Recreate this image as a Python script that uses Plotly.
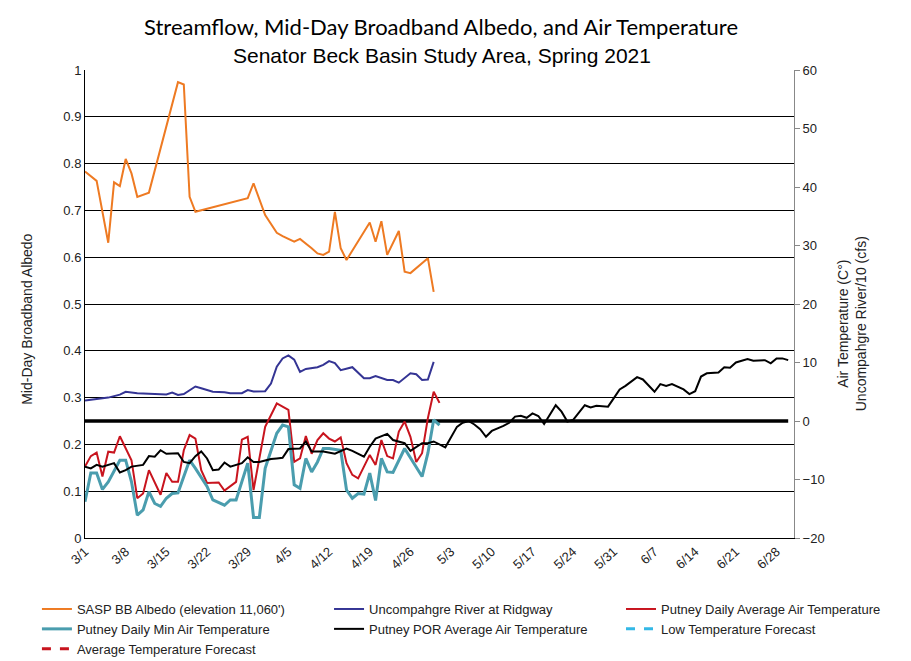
import pandas as pd
import plotly.graph_objects as go

# ---------------- data (day offsets from 2021-03-01) ----------------
start_date = "2021-03-01"

albedo_days = [0, 2, 4, 5, 6, 7, 8, 9, 11, 16, 17, 18, 19, 28, 29, 30, 31, 33, 34, 36, 37,
               39, 40, 41, 42, 43, 44, 45, 49, 50, 51, 52, 54, 55, 56, 59, 60]
albedo_vals = [0.783, 0.763, 0.631, 0.760, 0.752, 0.810, 0.779, 0.729, 0.738, 0.974, 0.969,
               0.729, 0.697, 0.726, 0.758, 0.722, 0.690, 0.652, 0.645, 0.633, 0.639,
               0.619, 0.608, 0.605, 0.612, 0.697, 0.619, 0.594, 0.674, 0.633, 0.677,
               0.605, 0.656, 0.569, 0.566, 0.598, 0.526]

river_days = [0, 2, 4, 6, 7, 9, 11, 13, 14, 15, 16, 17, 19, 20, 22, 24, 25, 27, 28, 29, 31,
              32, 33, 34, 35, 36, 37, 38, 40, 41, 42, 43, 44, 46, 48, 49, 50, 52, 53, 54,
              56, 57, 58, 59, 60]
river_vals = [3.5, 3.7, 4.0, 4.5, 5.0, 4.75, 4.7, 4.6, 4.55, 4.85, 4.45, 4.6, 5.9, 5.6, 5.0,
              4.9, 4.75, 4.75, 5.3, 5.05, 5.1, 6.4, 9.3, 10.7, 11.2, 10.5, 8.4, 8.9, 9.2,
              9.6, 10.25, 9.9, 8.7, 9.2, 7.3, 7.3, 7.7, 7.0, 7.0, 6.55, 8.15, 8.0, 7.0,
              7.1, 10.1]

avg_days = [0, 1, 2, 3, 4, 5, 6, 8, 9, 10, 11, 12, 13, 14, 15, 16, 17, 18, 19, 20, 21, 23,
            24, 26, 27, 28, 29, 31, 33, 35, 36, 37, 38, 39, 40, 41, 42, 43, 44, 45, 46, 47,
            49, 50, 51, 52, 53, 54, 55, 56, 57, 58, 59, 60, 61]
avg_vals = [-7.8, -6.0, -5.4, -9.5, -5.25, -5.4, -2.6, -6.7, -13.2, -12.4, -8.4, -10.6,
            -12.6, -8.9, -10.4, -10.4, -5.0, -2.4, -3.0, -8.4, -10.6, -10.5, -11.9, -10.4,
            -3.2, -2.7, -11.8, -1.0, 3.0, 1.9, -7.0, -6.4, -2.56, -5.6, -3.25, -2.1, -3.0,
            -3.5, -2.8, -7.2, -9.2, -9.8, -5.8, -7.5, -3.25, -6.0, -6.4, -1.8, -0.1, -2.7,
            -7.0, -5.5, 0.5, 5.0, 3.1]

min_days = [0, 1, 2, 3, 4, 6, 7, 8, 9, 10, 11, 12, 13, 14, 15, 16, 17, 18, 19, 21, 22, 24,
            25, 26, 28, 29, 30, 31, 33, 34, 35, 36, 37, 38, 39, 40, 41, 42, 44, 45, 46, 47,
            48, 49, 50, 51, 52, 53, 55, 57, 58, 59, 60, 61]
min_vals = [-13.8, -8.9, -8.9, -11.7, -10.4, -6.7, -6.7, -10.4, -16.1, -15.2, -12.1, -14.1,
            -14.6, -13.2, -12.4, -12.3, -9.5, -6.7, -8.1, -11.2, -13.5, -14.4, -13.5, -13.5,
            -7.2, -16.5, -16.5, -8.1, -2.1, -0.7, -1.0, -10.9, -11.5, -6.4, -8.7, -7.0,
            -4.7, -4.7, -5.0, -11.8, -13.2, -12.4, -12.5, -8.9, -13.6, -6.4, -8.7, -8.8,
            -4.7, -7.8, -9.5, -5.5, 0.2, -0.7]

por_days = [0, 1, 2, 3, 5, 6, 7, 8, 10, 11, 12, 13, 14, 16, 17, 18, 19, 20, 21, 22, 23, 24,
            25, 27, 28, 29, 30, 32, 33, 34, 35, 37, 38, 39, 41, 43, 45, 46, 48, 49, 50, 52,
            53, 55, 56, 58, 59, 60, 62, 64, 65, 66, 67, 68, 69, 70, 72, 73, 74, 75, 76, 77,
            78, 79, 81, 82, 83, 84, 86, 87, 88, 90, 91, 92, 93, 95, 96, 97, 98, 99, 100,
            101, 103, 104, 105, 106, 107, 109, 110, 111, 112, 114, 115, 117, 118, 119, 120,
            121]
por_vals = [-7.8, -8.1, -7.5, -7.8, -7.2, -8.8, -8.4, -7.8, -7.5, -6.0, -6.1, -5.0, -5.6,
            -5.5, -7.0, -7.2, -6.0, -5.2, -6.4, -8.4, -8.3, -7.1, -7.8, -7.2, -6.2, -7.0,
            -7.0, -6.5, -6.4, -6.3, -4.8, -4.7, -3.5, -5.2, -5.2, -5.6, -4.7, -5.1, -6.1,
            -4.4, -3.0, -2.2, -3.25, -3.8, -5.1, -3.8, -3.8, -3.5, -4.5, -1.0, -0.3, 0.0,
            -0.6, -1.4, -2.7, -1.7, -0.85, -0.3, 0.75, 0.9, 0.55, 1.3, 0.85, -0.5, 2.7, 1.6,
            -0.1, 0.2, 2.7, 2.3, 2.6, 2.45, 3.9, 5.4, 6.0, 7.5, 7.1, 6.0, 5.0, 6.3, 6.0, 6.3,
            5.4, 4.6, 5.1, 7.6, 8.15, 8.3, 9.2, 9.1, 10.0, 10.6, 10.3, 10.4, 9.85, 10.7,
            10.7, 10.4]

zero_days = [0, 121]
zero_vals = [0, 0]

tick_labels = ["3/1", "3/8", "3/15", "3/22", "3/29", "4/5", "4/12", "4/19", "4/26", "5/3",
               "5/10", "5/17", "5/24", "5/31", "6/7", "6/14", "6/21", "6/28"]
tick_days = [7 * i for i in range(len(tick_labels))]
x_range_days = [0, 122]


def to_dates(days):
    return pd.Timestamp(start_date) + pd.to_timedelta(days, unit="D")


FONT = "Liberation Sans, Arial, sans-serif"

fig = go.Figure()

fig.add_trace(go.Scatter(x=to_dates(zero_days), y=zero_vals, yaxis="y2", mode="lines",
                         line=dict(color="#000000", width=3.5), showlegend=False,
                         hoverinfo="skip"))

fig.add_trace(go.Scatter(x=to_dates(albedo_days), y=albedo_vals, mode="lines",
                         name="SASP BB Albedo (elevation 11,060')",
                         line=dict(color="#EE7A22", width=2), legend="legend"))
fig.add_trace(go.Scatter(x=to_dates(river_days), y=river_vals, yaxis="y2", mode="lines",
                         name="Uncompahgre River at Ridgway",
                         line=dict(color="#343494", width=2), legend="legend2"))
fig.add_trace(go.Scatter(x=to_dates(avg_days), y=avg_vals, yaxis="y2", mode="lines",
                         name="Putney Daily Average Air Temperature",
                         line=dict(color="#C8141E", width=2), legend="legend3"))
fig.add_trace(go.Scatter(x=to_dates(min_days), y=min_vals, yaxis="y2", mode="lines",
                         name="Putney Daily Min Air Temperature",
                         line=dict(color="#4A9DAE", width=3), legend="legend"))
fig.add_trace(go.Scatter(x=to_dates(por_days), y=por_vals, yaxis="y2", mode="lines",
                         name="Putney POR Average Air Temperature",
                         line=dict(color="#000000", width=2), legend="legend2"))
fig.add_trace(go.Scatter(x=[None], y=[None], yaxis="y2", mode="lines",
                         name="Low Temperature Forecast",
                         line=dict(color="#33B8E6", width=3, dash="dash"), legend="legend3"))
fig.add_trace(go.Scatter(x=[None], y=[None], yaxis="y2", mode="lines",
                         name="Average Temperature Forecast",
                         line=dict(color="#C8141E", width=3, dash="dash"), legend="legend"))

leg_common = dict(orientation="v", xanchor="left", yanchor="top", y=-0.1197,
                  bgcolor="rgba(0,0,0,0)", font=dict(family=FONT, size=13, color="#222"),
                  tracegroupgap=0, itemwidth=30)

fig.update_layout(
    width=903, height=653,
    margin=dict(l=77, r=117, t=62, b=123, autoexpand=False),
    paper_bgcolor="white", plot_bgcolor="white",
    font=dict(family=FONT, size=12, color="#222"),
    showlegend=True,
    legend=dict(x=-0.0678, **leg_common),
    legend2=dict(x=0.3442, **leg_common),
    legend3=dict(x=0.756, **leg_common),
    xaxis=dict(type="date", range=list(to_dates(x_range_days)),
               tickvals=list(to_dates(tick_days)), ticktext=tick_labels,
               tickangle=-42, tickfont=dict(size=13, color="#222"),
               showgrid=False, showline=True, linecolor="#000", linewidth=1,
               ticks="", zeroline=False),
    yaxis=dict(range=[0, 1], dtick=0.1, tickformat="~g", showgrid=True,
               gridcolor="#000", gridwidth=1, showline=True, linecolor="#000",
               linewidth=1, zeroline=False, ticks="", tickfont=dict(size=13, color="#222")),
    yaxis2=dict(range=[-20, 60], dtick=10, overlaying="y", side="right",
                showgrid=False, showline=True, linecolor="#888", linewidth=1,
                ticks="outside", ticklen=5, tickcolor="#888", zeroline=False,
                tickfont=dict(size=13, color="#222")),
    annotations=[
        dict(text="Streamflow, Mid-Day Broadband Albedo, and Air Temperature",
             xref="paper", yref="paper", x=0.502, y=1.092, xanchor="center",
             yanchor="middle", showarrow=False,
             font=dict(family="Lato, Liberation Sans, sans-serif", size=22, color="#000")),
        dict(text="Senator Beck Basin Study Area, Spring 2021",
             xref="paper", yref="paper", x=0.504, y=1.032, xanchor="center",
             yanchor="middle", showarrow=False,
             font=dict(family=FONT, size=21, color="#000")),
        dict(text="Mid-Day Broadband Albedo", xref="paper", yref="paper",
             x=-0.082, y=0.468, textangle=-90, showarrow=False,
             xanchor="center", yanchor="middle",
             font=dict(family=FONT, size=14, color="#222")),
        dict(text="Air Temperature (C°)<br>Uncompahgre River/10 (cfs)",
             xref="paper", yref="paper", x=1.082, y=0.457, textangle=-90,
             showarrow=False, xanchor="center", yanchor="middle",
             font=dict(family=FONT, size=14, color="#222")),
    ],
)

fig.write_html("out.html")
